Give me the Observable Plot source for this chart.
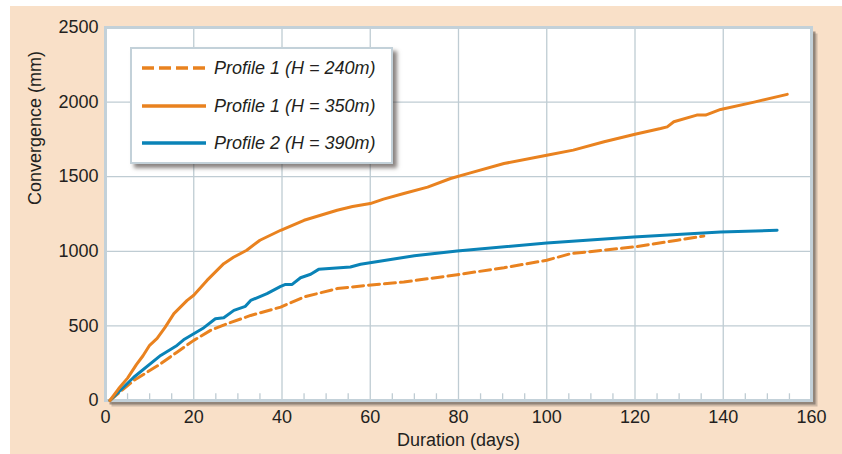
<!DOCTYPE html>
<html>
<head>
<meta charset="utf-8">
<script src="https://cdn.jsdelivr.net/npm/d3@7"></script>
<script src="https://cdn.jsdelivr.net/npm/@observablehq/plot@0.6"></script>
<style>
  html, body { margin: 0; padding: 0; background: #fff; }
  #wrap { position: relative; width: 842px; height: 454px; overflow: hidden; font-family: "Liberation Sans", Arial, sans-serif; }
  #peach { position: absolute; left: 10px; top: 6px; width: 832px; height: 448px; background: #f9e0c8; }
  #chart { position: absolute; left: 0; top: 0; }
  #legend { position: absolute; left: 130px; top: 47px; width: 259px; height: 113px; background: #fff;
            border: 2px solid #c3d1d9; box-shadow: 4px 4px 4px rgba(60,50,45,0.6); }
  .row { position: absolute; left: 0; height: 20px; width: 259px; }
  .row svg { position: absolute; left: 10px; top: 0; }
  .row span { position: absolute; left: 82px; top: -1px; font-style: italic; font-size: 18px; line-height: 22px; color: #231f20; white-space: nowrap; }
</style>
</head>
<body>
<div id="wrap">
  <div id="peach"></div>
  <div id="chart"></div>
  <div id="legend"></div>
</div>
<script>
// ---- data ----
const seriesNames = ["Profile 1 (H = 240m)", "Profile 1 (H = 350m)", "Profile 2 (H = 390m)"];
const seriesColors = ["#e9821f", "#e9821f", "#0a83b7"];
const seriesDashed = [true, false, false];

const days240 = [1, 6.4, 12.5, 16.2, 20, 23.8, 27.6, 32.9, 39.7, 45, 52.5, 59.3, 67.6, 79.7, 90.3, 100, 105.4, 119.7, 129.6, 135.6];
const conv240 = [0, 134, 246, 324, 403, 470, 515, 570, 626, 694, 750, 772, 794, 843, 890, 940, 984, 1029, 1074, 1103];

const days350 = [1, 3, 5, 7, 8.5, 10, 11.7, 13.5, 15.5, 18.5, 20, 23, 26.8, 29, 32, 35, 39.7, 45, 52.5, 56, 60, 63, 67.6, 73, 78.2, 82.7, 90.3, 100, 106, 113, 120, 125.8, 127.3, 128.8, 134, 136, 139.4, 147, 154.5];
const conv350 = [0, 80, 150, 240, 300, 370, 416, 490, 582, 671, 705, 805, 917, 960, 1007, 1074, 1141, 1208, 1275, 1300, 1320, 1350, 1387, 1430, 1488, 1526, 1588, 1644, 1678, 1734, 1785, 1823, 1834, 1868, 1913, 1913, 1951, 2000, 2052];

const days390 = [1, 6.4, 12.5, 16.2, 17.7, 20, 22.3, 24.9, 26.8, 29.1, 31.7, 32.9, 36.6, 39.7, 40.8, 42.3, 44.2, 46.5, 48.3, 55.5, 57.8, 70, 79.7, 100, 119.7, 139.4, 152.2];
const conv390 = [0, 156, 302, 369, 407, 447, 488, 548, 555, 604, 631, 671, 716, 765, 778, 778, 823, 846, 879, 895, 913, 970, 1002, 1056, 1096, 1130, 1141];

const xTicks = [0, 20, 40, 60, 80, 100, 120, 140, 160];
const yTicks = [0, 500, 1000, 1500, 2000, 2500];
const minorTicks = d3.range(5, 160, 5).filter(d => d % 20 !== 0);
const xTitle = "Duration (days)";
const yTitle = "Convergence (mm)";

// ---- build tables ----
const toRows = (days, vals) => days.map((d, i) => ({day: d, value: vals[i]}));
const s240 = toRows(days240, conv240);
const s350 = toRows(days350, conv350);
const s390 = toRows(days390, conv390);

const grid = "#bfccd3";
const fmt = d => String(d);
const plot = Plot.plot({
  width: 842,
  height: 454,
  marginLeft: 105,
  marginRight: 31,
  marginTop: 27,
  marginBottom: 54,
  style: {background: "transparent", fontFamily: "'Liberation Sans', Arial, sans-serif", fontSize: "18px", color: "#231f20"},
  x: {domain: [0, 160]},
  y: {domain: [0, 2500]},
  marks: [
    Plot.frame({fill: "#7a6f68", fillOpacity: 0.35, stroke: null, dx: 6, dy: 6}),
    Plot.frame({fill: "#6b625c", fillOpacity: 0.6, stroke: null, dx: 4, dy: 4}),
    Plot.frame({fill: "white", stroke: null}),
    Plot.gridX(xTicks, {stroke: grid, strokeOpacity: 1, strokeWidth: 1.3}),
    Plot.gridY(yTicks, {stroke: grid, strokeOpacity: 1, strokeWidth: 1.3}),
    Plot.ruleX(minorTicks, {y1: 0, y2: 45, stroke: grid, strokeWidth: 1.3}),
    Plot.frame({stroke: "#c3d1d9", strokeWidth: 3}),
    Plot.line(s240, {x: "day", y: "value", stroke: seriesColors[0], strokeWidth: 3, strokeDasharray: "11,5"}),
    Plot.line(s390, {x: "day", y: "value", stroke: seriesColors[2], strokeWidth: 3}),
    Plot.line(s350, {x: "day", y: "value", stroke: seriesColors[1], strokeWidth: 3}),
    Plot.axisX(xTicks, {tickSize: 0, tickPadding: 10, fontSize: 18, tickFormat: fmt, label: null}),
    Plot.axisY(yTicks, {tickSize: 0, tickPadding: 7, fontSize: 18, tickFormat: fmt, label: null}),
    Plot.text([xTitle], {frameAnchor: "bottom", lineAnchor: "middle", dy: 40, fontSize: 18, fill: "#231f20"}),
    Plot.text([yTitle], {frameAnchor: "left", lineAnchor: "middle", dx: -70, dy: -9, rotate: -90, fontSize: 18, fill: "#231f20"})
  ]
});
document.getElementById("chart").appendChild(plot);

// ---- legend ----
const legend = document.getElementById("legend");
const rowTops = [9, 47, 84];
seriesNames.forEach((name, i) => {
  const row = document.createElement("div");
  row.className = "row";
  row.style.top = rowTops[i] + "px";
  const dash = seriesDashed[i] ? 'stroke-dasharray="12,5"' : "";
  row.innerHTML = `<svg width="66" height="20"><line x1="0" y1="10" x2="64" y2="10" stroke="${seriesColors[i]}" stroke-width="3.5" ${dash}/></svg><span>${name}</span>`;
  legend.appendChild(row);
});
</script>
</body>
</html>
